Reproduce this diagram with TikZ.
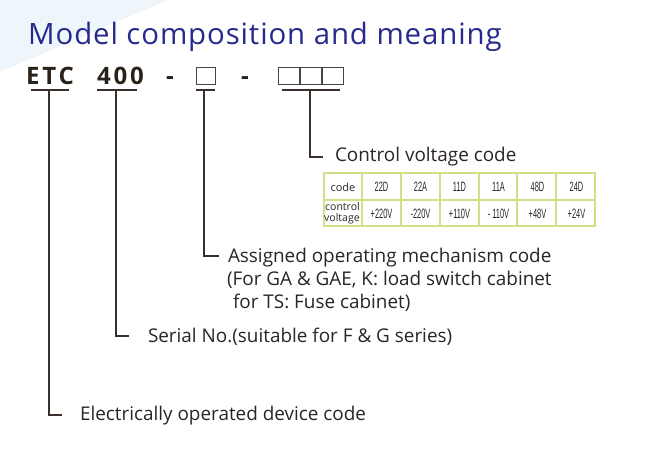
\documentclass[tikz,border=0pt]{standalone}
\usepackage{fontspec}
\setmainfont{Open Sans}
\newfontfamily\narrowfont{Liberation Sans}
\definecolor{titleblue}{HTML}{262A8C}
\definecolor{codeink}{HTML}{2A2118}
\definecolor{lineink}{HTML}{3A302B}
\definecolor{textink}{HTML}{2B2523}
\definecolor{bgblue}{HTML}{EEF6FC}
\definecolor{tabline}{HTML}{D6DE86}
\begin{document}
\begin{tikzpicture}[x=1pt,y=-1pt,
  txt/.style={anchor=base west,inner sep=0pt,outer sep=0pt,text=textink,font=\fontsize{18.9}{22}\selectfont},
  codepart/.style={anchor=base west,inner sep=0pt,outer sep=0pt,text=codeink,font=\fontsize{24}{28}\bfseries\addfontfeature{LetterSpace=12}},
  conn/.style={draw=lineink,line width=1.3pt},
  cbox/.style={draw=codeink!85,line width=0.8pt,minimum width=19pt,minimum height=17pt,inner sep=0pt,anchor=south west},
  tab/.style={draw=tabline,line width=1.2pt},
  cell/.style={inner sep=0pt,text=textink,font=\narrowfont\fontsize{13.5}{13.5}\selectfont}
]
\useasboundingbox (0,0) rectangle (668,454);
\fill[bgblue] (0,0) -- (168,0) -- (0,72) -- cycle;
\node[anchor=base west,inner sep=0pt,text=titleblue,font=\fontsize{29.4}{33}\selectfont\addfontfeature{LetterSpace=3}] (title) at (28,45) {Model composition and meaning};
% code line
\node[codepart] (etc) at (26,85) {ETC};
\node[codepart] (num) at (97,85) {400};
\node[codepart] (d1) at (166,85) {-};
\node[cbox] (b1) at (196,85) {};
\node[codepart] (d2) at (241,85) {-};
\node[cbox,minimum width=21pt] (b2) at (278,85) {};
\node[cbox,minimum width=21pt] (b3) at (300,85) {};
\node[cbox,minimum width=21pt] (b4) at (322,85) {};
% underlines
\draw[conn] (31,90) coordinate (u1a) -- (69,90) coordinate (u1b);
\draw[conn] (97,90) coordinate (u2a) -- (137,90) coordinate (u2b);
\draw[conn] (196,90) coordinate (u3a) -- (215,90) coordinate (u3b);
\draw[conn] (282,90) coordinate (u4a) -- (340,90) coordinate (u4b);
\coordinate (t1) at (49,90);
\coordinate (t2) at (116,90);
\coordinate (t3) at (204,90);
\coordinate (t4) at (310,90);
% labels
\node[txt] (lcv) at (335,162) {Control voltage code};
\node[txt] (lam) at (228,262) {Assigned operating mechanism code};
\node[txt] (lam2) at (227,285) {(For GA \& GAE, K: load switch cabinet};
\node[txt] (lam3) at (233,308) {for TS: Fuse cabinet)};
\node[txt] (lsn) at (148,342) {Serial No.(suitable for F \& G series)};
\node[txt] (led) at (80,420) {Electrically operated device code};
\coordinate (e1) at (323,157);
\coordinate (e2) at (219,256);
\coordinate (e3) at (129,336);
\coordinate (e4) at (62,415);
\draw[conn] (t4) |- (e1);
\draw[conn] (t3) |- (e2);
\draw[conn] (t2) |- (e3);
\draw[conn] (t1) |- (e4);
% table
\draw[tab] (324,173) rectangle (595,226);
\draw[tab] (324,200) -- (595,200);
\foreach \x in {362,401,440,479,517,556} \draw[tab] (\x,173) -- (\x,226);
\node[inner sep=0pt,text=textink,font=\fontsize{11}{11}\selectfont] (ccode) at (343,187) {code};
\node[anchor=base west,inner sep=0pt,text=textink,font=\fontsize{10.5}{10.5}\selectfont] (cctrl) at (325,211) {control};
\node[anchor=base west,inner sep=0pt,text=textink,font=\fontsize{10.5}{10.5}\selectfont] (cvolt) at (324,221) {voltage};
\foreach \c/\v [count=\i] in {22D/+220V,22A/-220V,11D/+110V,11A/-~110V,48D/+48V,24D/+24V}{
  \pgfmathsetmacro{\cx}{362+39*(\i-1)+19.5}
  \node[cell] (c\i) at (\cx,187) {\scalebox{0.55}[1]{\c}};
  \node[cell] (v\i) at (\cx,214) {\scalebox{0.55}[1]{\v}};
}
\end{tikzpicture}
\end{document}
